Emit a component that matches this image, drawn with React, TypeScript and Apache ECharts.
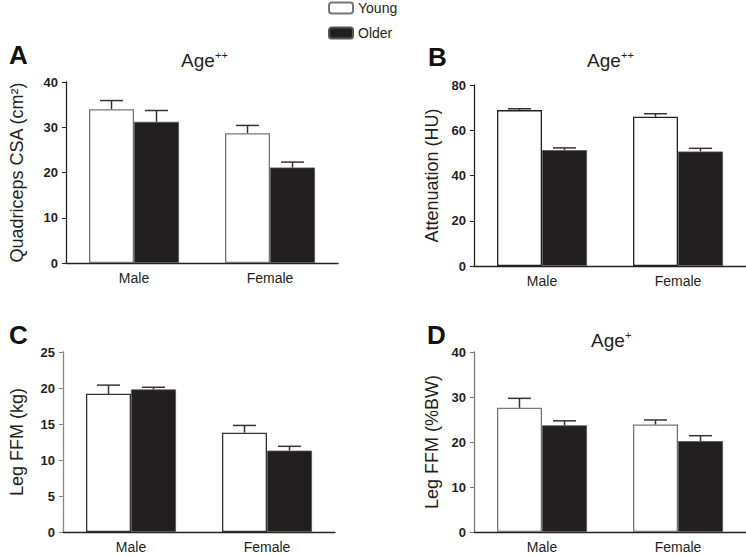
import React, { useEffect, useRef } from "react";
import * as echarts from "echarts";

const categories = ["Male", "Female"];

// Panel A: Quadriceps CSA (cm²)
const youngA = [34.0, 28.7];
const youngASem = [1.9, 1.7];
const olderA = [31.2, 21.1];
const olderASem = [2.5, 1.2];

// Panel B: Attenuation (HU)
const youngB = [68.9, 66.0];
const youngBSem = [0.6, 1.3];
const olderB = [51.2, 50.6];
const olderBSem = [1.0, 1.4];

// Panel C: Leg FFM (kg)
const youngC = [19.2, 13.8];
const youngCSem = [1.2, 1.0];
const olderC = [19.8, 11.3];
const olderCSem = [0.3, 0.6];

// Panel D: Leg FFM (%BW)
const youngD = [27.6, 23.9];
const youngDSem = [2.1, 1.0];
const olderD = [23.7, 20.2];
const olderDSem = [1.0, 1.2];

const panels = [
  { name: "Quadriceps CSA (cm²)", max: 40, interval: 10, young: youngA, youngSem: youngASem, older: olderA, olderSem: olderASem, nameGap: 40 },
  { name: "Attenuation (HU)", max: 80, interval: 20, young: youngB, youngSem: youngBSem, older: olderB, olderSem: olderBSem, nameGap: 33 },
  { name: "Leg FFM (kg)", max: 25, interval: 5, young: youngC, youngSem: youngCSem, older: olderC, olderSem: olderCSem, nameGap: 37 },
  { name: "Leg FFM (%BW)", max: 40, interval: 10, young: youngD, youngSem: youngDSem, older: olderD, olderSem: olderDSem, nameGap: 33 },
];

const gridPos = [
  { left: 66, top: 82, width: 272, height: 181 },
  { left: 474, top: 85, width: 272, height: 181 },
  { left: 63, top: 352, width: 272, height: 180 },
  { left: 474, top: 352, width: 272, height: 180 },
];
const axisColors = ["#222", "#222", "#888", "#777"];
const youngBorders = ["#777", "#222", "#333", "#777"];

const TXT = "#231f20";
const FONT = "Liberation Sans, Arial, sans-serif";
const BAR_W = 45;

function errRender(offset: number) {
  return (params: any, api: any) => {
    const idx = api.value(0);
    const mean = api.value(1);
    const sem = api.value(2);
    const p0 = api.coord([idx, mean]);
    const p1 = api.coord([idx, mean + sem]);
    const cx = p0[0] + offset;
    const style = { stroke: "#333", lineWidth: 1.5 };
    return {
      type: "group",
      children: [
        { type: "line", shape: { x1: cx, y1: p0[1], x2: cx, y2: p1[1] }, style },
        { type: "line", shape: { x1: cx - 11.5, y1: p1[1], x2: cx + 11.5, y2: p1[1] }, style },
      ],
    };
  };
}

export default function App() {
  const ref = useRef<HTMLDivElement>(null);
  useEffect(() => {
    if (!ref.current) return;
    const chart = echarts.init(ref.current, null, { renderer: "svg" });

    const grid = gridPos.map((g) => ({ ...g, containLabel: false }));
    const xAxis = panels.map((_, i) => ({
      type: "category",
      gridIndex: i,
      data: categories,
      axisLine: { lineStyle: { color: "#222", width: 1.3 } },
      axisTick: { show: false },
      axisLabel: { color: TXT, fontSize: 14, fontFamily: FONT, margin: 8 },
    }));
    const yAxis = panels.map((p, i) => ({
      type: "value",
      gridIndex: i,
      min: 0,
      max: p.max,
      interval: p.interval,
      name: p.name,
      nameLocation: "middle",
      nameGap: p.nameGap,
      nameRotate: 90,
      nameTextStyle: { color: TXT, fontSize: 18, fontFamily: FONT },
      splitLine: { show: false },
      axisLine: { show: true, lineStyle: { color: axisColors[i], width: 1.3 } },
      axisTick: { show: true, length: 4, lineStyle: { color: axisColors[i] } },
      axisLabel: { color: TXT, fontSize: 13, fontWeight: "bold", fontFamily: FONT, margin: 8 },
    }));

    const series: any[] = [];
    panels.forEach((p, i) => {
      series.push({
        type: "bar",
        name: "Young",
        xAxisIndex: i,
        yAxisIndex: i,
        data: p.young,
        barWidth: BAR_W,
        barGap: "0%",
        itemStyle: { color: "#ffffff", borderColor: youngBorders[i], borderWidth: 1.3 },
      });
      series.push({
        type: "bar",
        name: "Older",
        xAxisIndex: i,
        yAxisIndex: i,
        data: p.older,
        barWidth: BAR_W,
        barGap: "0%",
        itemStyle: { color: "#231f20", borderColor: "#555", borderWidth: 0.8 },
      });
      series.push({
        type: "custom",
        name: "youngErr" + i,
        xAxisIndex: i,
        yAxisIndex: i,
        renderItem: errRender(-BAR_W / 2),
        data: p.young.map((v, k) => [k, v, p.youngSem[k]]),
        encode: { x: 0, y: 1 },
        z: 5,
      });
      series.push({
        type: "custom",
        name: "olderErr" + i,
        xAxisIndex: i,
        yAxisIndex: i,
        renderItem: errRender(BAR_W / 2),
        data: p.older.map((v, k) => [k, v, p.olderSem[k]]),
        encode: { x: 0, y: 1 },
        z: 5,
      });
    });

    const letter = (t: string, x: number, y: number) => ({
      type: "text",
      left: x,
      top: y,
      style: { text: t, fill: "#111", font: `bold 26px ${FONT}` },
    });
    const age = (sup: string, x: number, y: number) => [
      { type: "text", left: x, top: y, style: { text: "Age", font: `19px ${FONT}`, fill: TXT } },
      { type: "text", left: x + 34, top: y - 2, style: { text: sup, font: `11px ${FONT}`, fill: TXT } },
    ];

    chart.setOption({
      animation: false,
      grid,
      xAxis,
      yAxis,
      series,
      legend: {
        data: ["Young", "Older"],
        orient: "vertical",
        left: 328,
        top: 1,
        padding: 0,
        itemWidth: 24,
        itemHeight: 11,
        itemGap: 11,
        textStyle: { color: TXT, fontSize: 14, fontFamily: FONT },
        selectedMode: false,
      },
      graphic: [
        letter("A", 9, 42),
        letter("B", 428, 44),
        letter("C", 9, 322),
        letter("D", 427, 322),
        ...age("++", 181, 51),
        ...age("++", 587, 51),
        ...age("+", 591, 331),
      ],
    });
    return () => chart.dispose();
  }, []);
  return (
    <div
      ref={ref}
      style={{ position: "fixed", left: 0, top: 0, width: 746, height: 555, background: "#fff" }}
    />
  );
}
